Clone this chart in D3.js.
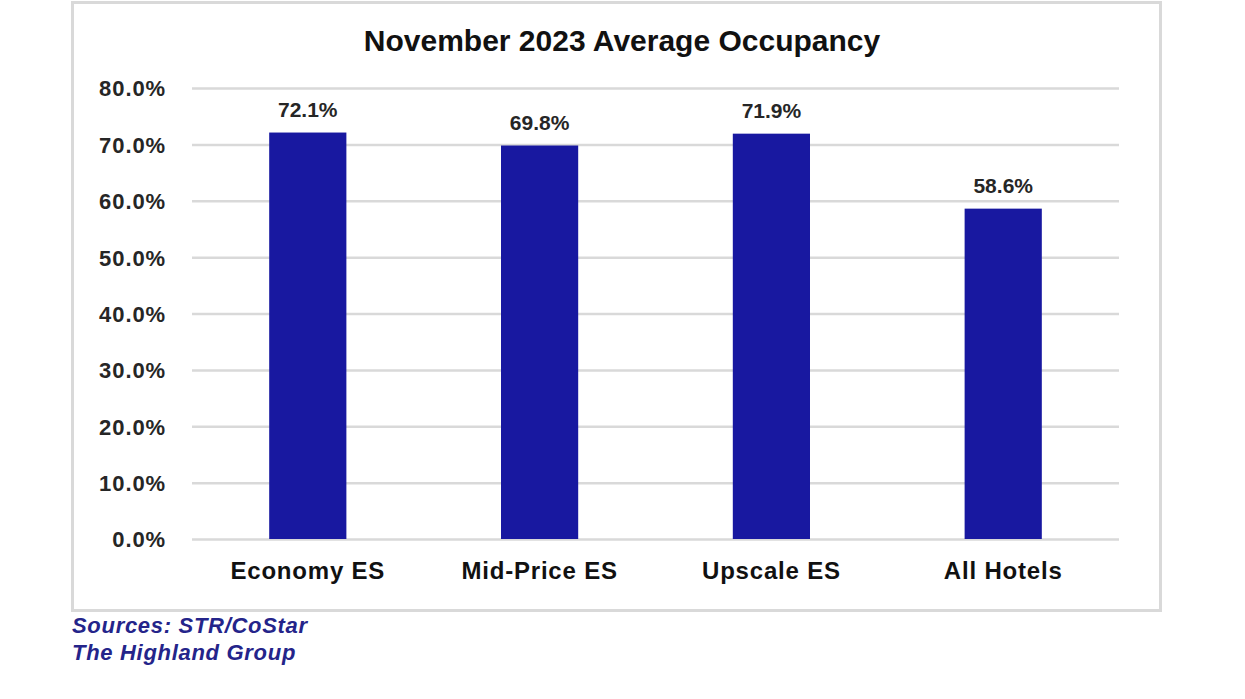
<!DOCTYPE html>
<html>
<head>
<meta charset="utf-8">
<script src="https://cdn.jsdelivr.net/npm/d3@7"></script>
<style>
  body { margin: 0; background: #fff; }
  svg { display: block; font-family: "Liberation Sans", Arial, sans-serif; }
</style>
</head>
<body>
<div id="container"></div>
<script>
// chart data
let categories = ["Economy ES", "Mid-Price ES", "Upscale ES", "All Hotels"];
let occupancy = [0.721, 0.698, 0.719, 0.586];
let tickValues = [0, 0.1, 0.2, 0.3, 0.4, 0.5, 0.6, 0.7, 0.8];
let titleText = "November 2023 Average Occupancy";
let sourceLines = ["Sources: STR/CoStar", "The Highland Group"];

let width = 1245;
let height = 699;

// plot area
let plotLeft = 192, plotRight = 1119, plotTop = 88, plotBottom = 539;

const svg = d3.select("#container").append("svg")
  .attr("width", width)
  .attr("height", height);

// outer frame
svg.append("rect")
  .attr("x", 72.5)
  .attr("y", 2.5)
  .attr("width", 1088)
  .attr("height", 608)
  .attr("fill", "#fff")
  .attr("stroke", "#d9d9d9")
  .attr("stroke-width", 3);

let x = d3.scaleBand()
  .domain(categories)
  .range([plotLeft, plotRight])
  .paddingInner(0.667)
  .paddingOuter(0.333);

let y = d3.scaleLinear()
  .domain([0, 0.8])
  .range([plotBottom, plotTop]);

// gridlines + y labels
const yAxis = svg.append("g")
  .attr("transform", `translate(${plotLeft},0)`)
  .call(d3.axisLeft(y)
    .tickValues(tickValues)
    .tickFormat(d3.format(".1%"))
    .tickSize(-(plotRight - plotLeft))
    .tickPadding(26));

yAxis.select(".domain").remove();
yAxis.selectAll(".tick line")
  .attr("stroke", "#d9d9d9")
  .attr("stroke-width", 2.5);
yAxis.selectAll(".tick text")
  .attr("fill", "#262626")
  .attr("font-size", 22)
  .attr("font-weight", "bold")
  .attr("letter-spacing", 0.9)
  .attr("dy", "0.36em");

// bars
svg.append("g")
  .selectAll("rect")
  .data(occupancy)
  .join("rect")
  .attr("x", (d, i) => x(categories[i]))
  .attr("y", d => y(d))
  .attr("width", x.bandwidth())
  .attr("height", d => y(0) - y(d))
  .attr("fill", "#1818a0");

// value labels
svg.append("g")
  .selectAll("text")
  .data(occupancy)
  .join("text")
  .attr("x", (d, i) => x(categories[i]) + x.bandwidth() / 2)
  .attr("y", d => y(d) - 16)
  .attr("text-anchor", "middle")
  .attr("font-size", 21)
  .attr("font-weight", "bold")
  .attr("fill", "#262626")
  .text(d => d3.format(".1%")(d));

// category labels
svg.append("g")
  .selectAll("text")
  .data(categories)
  .join("text")
  .attr("x", d => x(d) + x.bandwidth() / 2)
  .attr("y", plotBottom + 40)
  .attr("text-anchor", "middle")
  .attr("font-size", 24)
  .attr("font-weight", "bold")
  .attr("letter-spacing", 0.8)
  .attr("fill", "#111")
  .text(d => d);

// title
svg.append("text")
  .attr("x", 622)
  .attr("y", 51)
  .attr("text-anchor", "middle")
  .attr("font-size", 30)
  .attr("font-weight", "bold")
  .attr("fill", "#111")
  .text(titleText);

// sources
svg.append("g")
  .selectAll("text")
  .data(sourceLines)
  .join("text")
  .attr("x", 72)
  .attr("y", (d, i) => 633 + i * 27)
  .attr("font-size", 22)
  .attr("font-weight", "bold")
  .attr("font-style", "italic")
  .attr("letter-spacing", 0.7)
  .attr("fill", "#24248a")
  .text(d => d);
</script>
</body>
</html>
